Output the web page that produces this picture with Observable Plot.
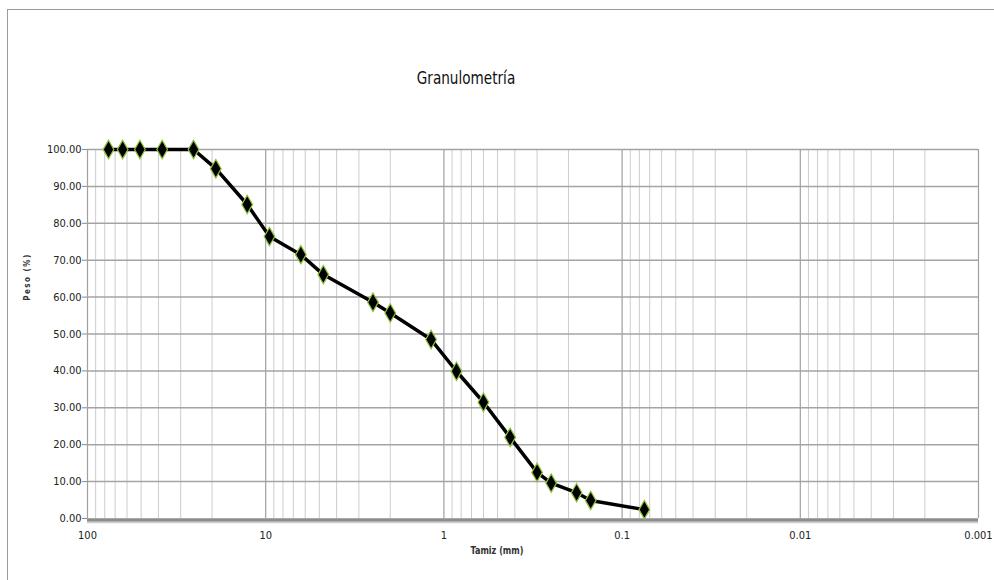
<!DOCTYPE html>
<html>
<head>
<meta charset="utf-8">
<script src="https://cdn.jsdelivr.net/npm/d3@7"></script>
<script src="https://cdn.jsdelivr.net/npm/@observablehq/plot@0.6"></script>
<style>
  html, body { margin: 0; padding: 0; background: #fff; }
  #wrap { position: relative; width: 994px; height: 580px; overflow: hidden; background: #fff;
          font-family: "Liberation Sans Narrow", "Arial Narrow", "DejaVu Sans Condensed", sans-serif; }
  #frame { position: absolute; left: 7px; top: 9px; width: 1100px; height: 700px;
           border-left: 1px solid #9a9a9a; border-top: 1px solid #9a9a9a; box-sizing: border-box; }
  #chart { position: absolute; left: 0; top: 0; }
  .lbl { position: absolute; white-space: nowrap; color: #222; }
  #title { left: 466px; top: 67px; transform: translateX(-50%) scaleX(0.84); font-size: 18px; color: #111; font-weight: 500; }
  #xlabel { left: 497px; top: 545px; transform: translateX(-50%) scaleX(0.9); font-size: 10px; font-weight: bold; color: #333; }
  #ylabel { left: 27px; top: 277px; transform: translate(-50%, -50%) rotate(-90deg); font-size: 8px; letter-spacing: 1.5px; font-weight: bold; color: #333; }
</style>
</head>
<body>
<div id="wrap">
  <div id="frame"></div>
  <div id="chart"></div>
  <div class="lbl" id="title">Granulometría</div>
  <div class="lbl" id="xlabel">Tamiz (mm)</div>
  <div class="lbl" id="ylabel">Peso (%)</div>
</div>
<script>
// Sieve opening (mm)
const sieveSizes = [76.2, 63.5, 50.8, 38.1, 25.4, 19.05, 12.7, 9.525, 6.35, 4.75, 2.5, 2.0, 1.18, 0.85, 0.6, 0.425, 0.3, 0.25, 0.18, 0.15, 0.075];
// Percent passing (%)
const percentPassing = [100, 100, 100, 100, 100, 94.8, 85.1, 76.4, 71.5, 66.1, 58.6, 55.7, 48.5, 39.9, 31.5, 22.0, 12.5, 9.6, 7.0, 4.9, 2.4];
// Axis ticks
const xMajorTicks = [100, 10, 1, 0.1, 0.01, 0.001];
const xTickLabels = ["100", "10", "1", "0.1", "0.01", "0.001"];
const yTicks = [0, 10, 20, 30, 40, 50, 60, 70, 80, 90, 100];

const data = sieveSizes.map((s, i) => ({size: s, pct: percentPassing[i]}));
const minorTicks = [];
xMajorTicks.slice(1).forEach(d => { for (let k = 2; k <= 9; k++) minorTicks.push(d * k); });

const chart = Plot.plot({
  width: 994,
  height: 580,
  marginLeft: 87,
  marginRight: 16,
  marginTop: 149,
  marginBottom: 62,
  style: {fontFamily: '"Liberation Sans Narrow", "Arial Narrow", "DejaVu Sans Condensed", sans-serif', fontSize: "11px", color: "#222", background: "transparent"},
  x: {type: "log", domain: [100, 0.001]},
  y: {domain: [0, 100]},
  marks: [
    Plot.ruleX(minorTicks, {stroke: "#cccccc", strokeWidth: 1}),
    Plot.ruleX(xMajorTicks, {stroke: "#a0a0a0", strokeWidth: 1.2}),
    Plot.ruleY(yTicks.filter(d => d > 0), {stroke: "#a4a4a4", strokeWidth: 1.5}),
    Plot.ruleY([0], {stroke: "#8c8c8c", strokeWidth: 3.5, dy: 1.5}),
    Plot.ruleY([0], {stroke: "#cfcfcf", strokeWidth: 1.5, dy: 4}),
    Plot.axisY({ticks: yTicks, tickFormat: d => d.toFixed(2), tickSize: 5, tickPadding: 1, stroke: "#888", label: null, fontSize: 11}),
    Plot.axisX({ticks: xMajorTicks, tickFormat: d => xTickLabels[xMajorTicks.indexOf(d)], tickSize: 0, tickPadding: 13, label: null, fontSize: 11}),
    Plot.line(data, {x: "size", y: "pct", stroke: "#000", strokeWidth: 3.5, strokeLinejoin: "round"}),
    Plot.dot(data, {x: "size", y: "pct", symbol: "diamond", r: 5.6, fill: "#000", stroke: "#8fc23a", strokeWidth: 1.2})
  ]
});
document.getElementById("chart").appendChild(chart);
</script>
</body>
</html>
